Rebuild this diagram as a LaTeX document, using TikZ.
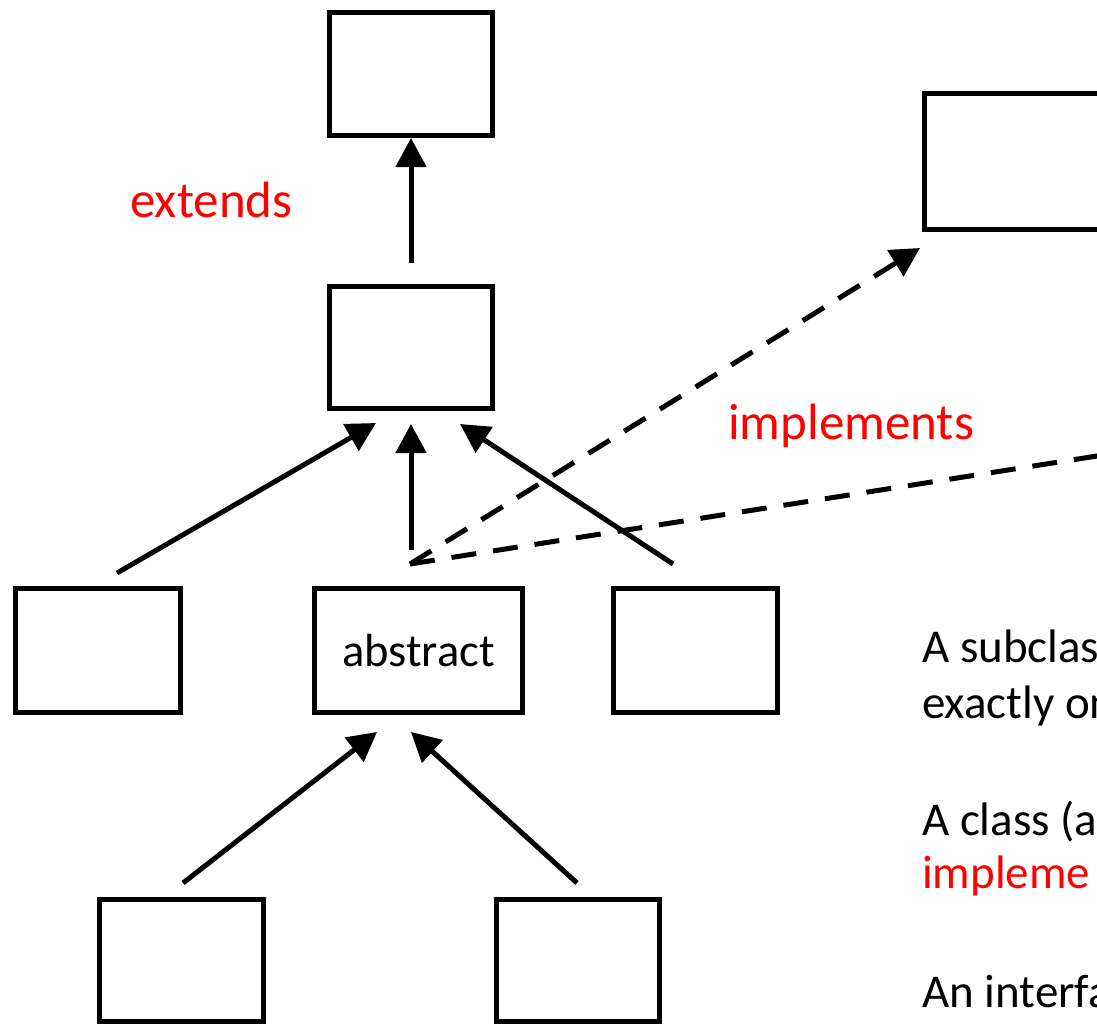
\documentclass[tikz,border=0pt]{standalone}
\usepackage{fontspec}
\setmainfont{Carlito}
\usetikzlibrary{arrows.meta,calc}
\definecolor{labelred}{RGB}{255,0,0}
\begin{document}
\begin{tikzpicture}[x=1pt,y=-1pt,
  box/.style={draw=black,line width=5pt,rectangle,inner sep=0pt,outer sep=0pt},
  arr/.style={line width=5pt,-{Triangle[length=29pt,width=30pt]}},
  darr/.style={arr,dash pattern=on 25pt off 17pt},
  dline/.style={line width=5pt,dash pattern=on 25pt off 17pt},
  lbl/.style={text=labelred,anchor=base west,inner sep=0pt,font=\fontsize{51}{61}\selectfont},
  note/.style={anchor=base west,inner sep=0pt,font=\fontsize{47}{56}\selectfont}]
\useasboundingbox (0,0) rectangle (1097,1026);
\clip (0,0) rectangle (1097,1026);

% class boxes
\node[box,minimum width=163pt,minimum height=123pt] (top) at (411,74) {};
\node[box,minimum width=163pt,minimum height=122pt] (mid) at (411,347.5) {};
\node[box,minimum width=230pt,minimum height=136pt,anchor=west] (iface) at (924.5,161.5) {};
\node[box,minimum width=165pt,minimum height=124pt] (b1) at (98,650.5) {};
\node[box,minimum width=208pt,minimum height=124pt,font=\fontsize{46.5}{56}\selectfont] (abs) at (418.5,650.5) {abstract};
\node[box,minimum width=164pt,minimum height=124pt] (b3) at (695.5,650.5) {};
\node[box,minimum width=164pt,minimum height=122pt] (bl) at (181.5,960.5) {};
\node[box,minimum width=163pt,minimum height=122pt] (br) at (578,960.5) {};
\coordinate (offr) at (1200,439.8);

% extends arrows
\draw[arr] ($(mid.north)+(0,-23.5)$) -- ($(top.south)+(0,2.5)$);
\draw[arr] ($(b1.north)+(19,-15.5)$) -- ($(mid.south)+(-35,14.5)$);
\draw[arr] ($(abs.north)+(-7.5,-38.5)$) -- ($(mid.south)+(0,15.5)$);
\draw[arr] ($(b3.north)+(-22.5,-24.5)$) -- ($(mid.south)+(49,15.5)$);
\draw[arr] ($(bl.north)+(1.5,-16.5)$) -- ($(abs.south)+(-41.5,19.5)$);
\draw[arr] ($(br.north)+(-1,-16.5)$) -- ($(abs.south)+(-7.5,19.5)$);

% implements arrows
\draw[darr] ($(abs.north)+(-8.5,-24.5)$) -- ($(iface.south west)+(-4.5,18.5)$);
\draw[dline] ($(abs.north)+(-8.5,-24.5)$) -- (offr);

% labels
\node[lbl] (lext) at (130,217) {extends};
\node[lbl] (limp) at (728,439) {implements};

% notes
\node[note] (n1) at (922,662) {A subclass};
\node[note] (n2) at (922,718) {exactly on};
\node[note] (n3) at (922,835) {A class (a};
\node[note,text=labelred] (n4) at (922,888) {impleme};
\node[note] (n5) at (922,1007) {An interfa};
\end{tikzpicture}
\end{document}
